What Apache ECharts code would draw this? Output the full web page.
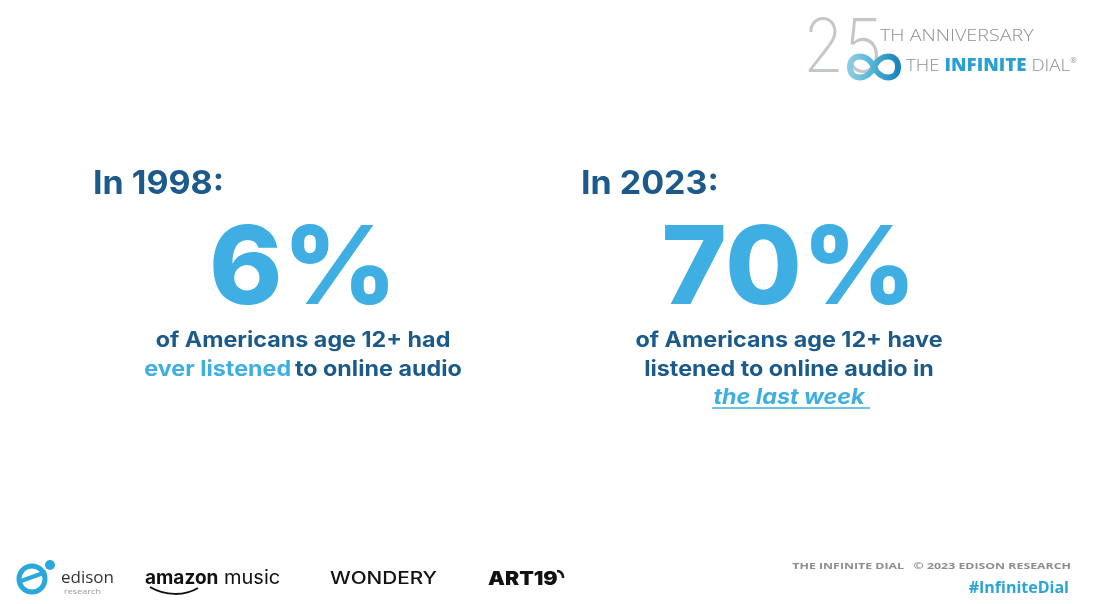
<!DOCTYPE html>
<html>
<head>
<meta charset="utf-8">
<style>
  html, body { margin: 0; padding: 0; background: #ffffff; }
  #chart { width: 1101px; height: 604px; }
</style>
<script src="https://cdn.jsdelivr.net/npm/echarts@6/dist/echarts.min.js"></script>
</head>
<body>
<div id="chart"></div>
<script>
// Survey years and share of Americans 12+ listening to online audio
const years = ['1998', '2023'];
const shares = [6, 70];
// Caption lines under each figure (rich-text markup: d = dark, l = light, u = light italic)
const captions = [
  ['{d|of Americans age 12+ had}', '{l|ever listened} {d|to online audio}'],
  ['{d|of Americans age 12+ have}', '{d|listened to online audio in}', '{u|the last week}']
];
const partners = ['edison', 'amazon', 'music', 'WONDERY', 'ART19'];

const DARK = '#1b5a8b';
const LIGHT = '#3eaee3';
const FONT = 'Inter, "Noto Sans", sans-serif';
const THIN = '"Open Sans", sans-serif';

const chart = echarts.init(document.getElementById('chart'), null, { renderer: 'canvas' });

function txt(x, y, text, style, extra) {
  return Object.assign({
    type: 'text', x: x, y: y,
    style: Object.assign({
      text: text,
      fontFamily: FONT,
      textAlign: 'left', textVerticalAlign: 'middle',
      align: 'left', verticalAlign: 'middle'
    }, style)
  }, extra || {});
}

const elements = [];

// Two panels: year heading, big percentage, caption
const panelLeft = [93, 581];
const panelCenter = [303, 789];
const capRich = {
  d: { fontFamily: FONT, fontSize: 21, fontWeight: 700, fill: DARK, color: DARK },
  l: { fontFamily: FONT, fontSize: 21, fontWeight: 700, fill: LIGHT, color: LIGHT },
  u: { fontFamily: FONT, fontSize: 21, fontWeight: 700, fontStyle: 'italic', fill: LIGHT, color: LIGHT }
};
years.forEach(function (yr, i) {
  elements.push(txt(panelLeft[i], 184, 'In ' + yr + ':', {
    fontSize: 33, fontWeight: 700, fill: DARK
  }, { scaleX: 1.03 }));
  elements.push(txt(panelCenter[i], 272, shares[i] + '%', {
    fontSize: 108, fontWeight: 800, fill: LIGHT,
    textAlign: 'center', align: 'center'
  }, { scaleX: 1.03 }));
  captions[i].forEach(function (line, k) {
    elements.push(txt(panelCenter[i], 341 + k * 28.5, line, {
      textAlign: 'center', align: 'center', rich: capRich
    }, { scaleX: 1.11 }));
  });
});
// underline beneath "the last week"
elements.push({
  type: 'line', shape: { x1: 712, y1: 408, x2: 870, y2: 408 },
  style: { stroke: LIGHT, lineWidth: 1.5 }
});

// Anniversary badge, top right
elements.push(txt(803, 50, '25', {
  fontFamily: 'Inter, Lato, sans-serif', fontSize: 74, fontWeight: 200,
  fill: '#c4c7ca'
}, { scaleX: 0.9 }));
// infinity mark built from four cubic segments sharing one gradient
const loopStroke = new echarts.graphic.LinearGradient(851, 0, 897, 0, [
  { offset: 0, color: '#8ccbe0' }, { offset: 0.45, color: '#52b4d6' },
  { offset: 1, color: '#1a86bb' }
], true);
[
  [874, 67, 880, 53, 898, 53, 898, 67],
  [898, 67, 898, 81, 880, 81, 874, 67],
  [874, 67, 868, 53, 850, 53, 850, 67],
  [850, 67, 850, 81, 868, 81, 874, 67]
].forEach(function (s) {
  elements.push({
    type: 'bezierCurve',
    shape: { x1: s[0], y1: s[1], cpx1: s[2], cpy1: s[3], cpx2: s[4], cpy2: s[5], x2: s[6], y2: s[7] },
    style: { fill: 'none', stroke: loopStroke, lineWidth: 6, lineCap: 'round' }
  });
});
elements.push(txt(880, 36, 'TH ANNIVERSARY', {
  fontFamily: THIN, fontSize: 17, fontWeight: 300, fill: '#8c9196'
}, { scaleX: 1.16 }));
elements.push(txt(906, 66, '{g|THE }{b|INFINITE}{g| DIAL}{r|®}', {
  rich: {
    g: { fontFamily: THIN, fontSize: 17, fontWeight: 300, fill: '#8c9196', color: '#8c9196' },
    b: { fontFamily: THIN, fontSize: 17, fontWeight: 800, fill: '#2a9fd6', color: '#2a9fd6' },
    r: { fontFamily: THIN, fontSize: 7, fill: '#8c9196', color: '#8c9196', verticalAlign: 'top' }
  }
}, { scaleX: 1.1 }));

// Sponsor marks, bottom left
elements.push({
  type: 'circle', shape: { cx: 32, cy: 579, r: 13 },
  style: { fill: 'none', stroke: '#2aa7dc', lineWidth: 5 }
});
elements.push({
  type: 'line', shape: { x1: 21, y1: 581, x2: 46, y2: 572 },
  style: { stroke: '#2aa7dc', lineWidth: 4 }
});
elements.push({
  type: 'circle', shape: { cx: 50, cy: 565, r: 5 },
  style: { fill: '#2aa7dc' }
});
elements.push(txt(61, 578, partners[0], {
  fontFamily: THIN, fontSize: 17, fontWeight: 400, fill: '#333333'
}));
elements.push(txt(64, 592, 'research', {
  fontFamily: THIN, fontSize: 7, fontWeight: 400, fill: '#9a9a9a'
}, { scaleX: 1.3 }));
elements.push(txt(145, 578, '{a|' + partners[1] + '}{m| ' + partners[2] + '}', {
  rich: {
    a: { fontFamily: FONT, fontSize: 19, fontWeight: 700, fill: '#111111', color: '#111111' },
    m: { fontFamily: FONT, fontSize: 20, fontWeight: 400, fill: '#111111', color: '#111111' }
  }
}));
elements.push({
  type: 'bezierCurve',
  shape: { x1: 150, y1: 587, x2: 198, y2: 588, cpx1: 165, cpy1: 596, cpx2: 185, cpy2: 596 },
  style: { stroke: '#111111', lineWidth: 2, fill: 'none' }
});
elements.push(txt(330, 579, partners[3], {
  fontFamily: FONT, fontSize: 17, fontWeight: 500, fill: '#111111'
}, { scaleX: 1.22 }));
elements.push(txt(488, 579, partners[4], {
  fontFamily: FONT, fontSize: 19, fontWeight: 900, fill: '#111111'
}, { scaleX: 1.12 }));
elements.push({
  type: 'arc', shape: { cx: 557, cy: 577, r: 6, startAngle: -Math.PI * 0.5, endAngle: Math.PI * 0.05 },
  style: { stroke: '#111111', lineWidth: 2.5, fill: 'none' }
});

// Footer, bottom right
elements.push(txt(1071, 567, 'THE INFINITE DIAL   © 2023 EDISON RESEARCH', {
  fontFamily: THIN, fontSize: 8.5, fontWeight: 700, fill: '#8d8d8d',
  textAlign: 'right', align: 'right'
}, { scaleX: 1.45 }));
elements.push(txt(1069, 588, '#InfiniteDial', {
  fontFamily: THIN, fontSize: 16, fontWeight: 700, fill: '#2aa3d8',
  textAlign: 'right', align: 'right'
}));

chart.setOption({
  backgroundColor: '#ffffff',
  animation: false,
  graphic: { elements: elements }
});
</script>
</body>
</html>
